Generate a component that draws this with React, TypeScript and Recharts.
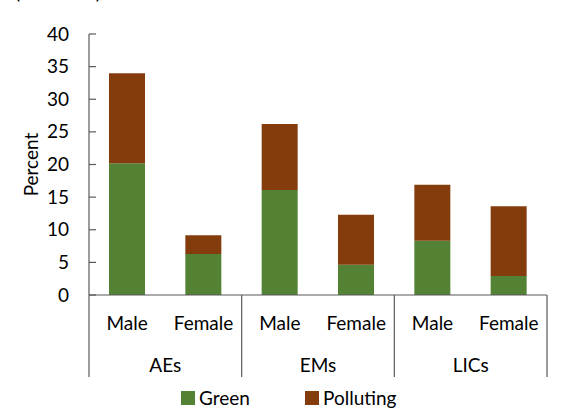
import { Bar, BarChart, XAxis, YAxis } from 'recharts'

const groups = ['AEs', 'EMs', 'LICs']
const sexes = ['Male', 'Female', 'Male', 'Female', 'Male', 'Female']
const green = [20.2, 6.3, 16.1, 4.65, 8.3, 2.9]
const polluting = [13.8, 2.85, 10.1, 7.65, 8.6, 10.7]
const yTicks = [0, 5, 10, 15, 20, 25, 30, 35, 40]

const W = 571
const H = 408
const MARGIN = { top: 34, right: 24, left: 0, bottom: 28 }
const Y_AXIS_W = 89
const X_AXIS_H = 85
const BAND = (W - MARGIN.left - MARGIN.right - Y_AXIS_W) / sexes.length
const FONT = 'Lato, "Open Sans", sans-serif'
const AXIS = '#595959'
const GREEN = '#548235'
const BROWN = '#843C0C'

const data = sexes.map((sex, i) => ({
  key: `${groups[Math.floor(i / 2)]}-${sex}-${i}`,
  green: green[i],
  polluting: polluting[i],
}))

function YTick(props: any) {
  const { x, y, payload } = props
  return (
    <g>
      <line x1={x} x2={x + 7} y1={y} y2={y} stroke={AXIS} strokeWidth={1.2} />
      <text x={x - 20} y={y} dy={6.5} textAnchor="end" fontSize={19} fill="#000" fontFamily={FONT}>
        {payload.value}
      </text>
    </g>
  )
}

function XTick(props: any) {
  const { x, y, payload } = props
  const i = props.index ?? payload.index
  const even = i % 2 === 0
  return (
    <g>
      <text x={x} y={y + 28} dy={6.5} textAnchor="middle" fontSize={19} fill="#000" fontFamily={FONT}>
        {sexes[i]}
      </text>
      {even && (
        <>
          <line x1={x - BAND / 2} x2={x - BAND / 2} y1={y} y2={y + 82} stroke={AXIS} strokeWidth={1.2} />
          <text x={x + BAND / 2} y={y + 70} dy={6.5} textAnchor="middle" fontSize={19} fill="#000" fontFamily={FONT}>
            {groups[i / 2]}
          </text>
        </>
      )}
      {i === sexes.length - 1 && (
        <line x1={x + BAND / 2} x2={x + BAND / 2} y1={y} y2={y + 82} stroke={AXIS} strokeWidth={1.2} />
      )}
    </g>
  )
}

function LegendBox() {
  const item = (color: string, label: string, left: number) => (
    <div style={{ position: 'absolute', left, top: 0, display: 'flex', alignItems: 'center' }}>
      <span style={{ width: 14, height: 14, background: color, display: 'inline-block', marginRight: 4 }} />
      <span style={{ fontSize: 19, fontFamily: FONT, color: '#000' }}>{label}</span>
    </div>
  )
  return (
    <div style={{ position: 'absolute', left: 0, top: 386, width: W, height: 22 }}>
      {item(GREEN, 'Green', 181)}
      {item(BROWN, 'Polluting', 305)}
    </div>
  )
}

export default function App() {
  return (
    <div style={{ position: 'absolute', left: 0, top: 0, width: W, height: H, background: '#fff', overflow: 'hidden' }}>
      <div
        style={{
          position: 'absolute',
          left: 15,
          top: -20,
          fontSize: 19,
          fontFamily: FONT,
          color: '#000',
          letterSpacing: 1.5,
          lineHeight: '24px',
        }}
      >
        (Percent)
      </div>
      <BarChart width={W} height={H} data={data} margin={MARGIN} barSize={36}>
        <YAxis
          width={Y_AXIS_W}
          domain={[0, 40]}
          ticks={yTicks}
          interval={0}
          tickSize={0}
          tickMargin={0}
          tickLine={false}
          axisLine={{ stroke: AXIS, strokeWidth: 1.2 }}
          tick={<YTick />}
          label={{
            value: 'Percent',
            angle: -90,
            position: 'insideLeft',
            dx: 26,
            dy: 0,
            style: { fontSize: 19, fontFamily: FONT, fill: '#000', textAnchor: 'middle' },
          }}
        />
        <XAxis
          dataKey="key"
          height={X_AXIS_H}
          interval={0}
          tickSize={0}
          tickMargin={0}
          tickLine={false}
          axisLine={{ stroke: AXIS, strokeWidth: 1.2 }}
          tick={<XTick />}
        />
        <Bar dataKey="green" stackId="a" fill={GREEN} isAnimationActive={false} />
        <Bar dataKey="polluting" stackId="a" fill={BROWN} isAnimationActive={false} />
      </BarChart>
      <LegendBox />
    </div>
  )
}
